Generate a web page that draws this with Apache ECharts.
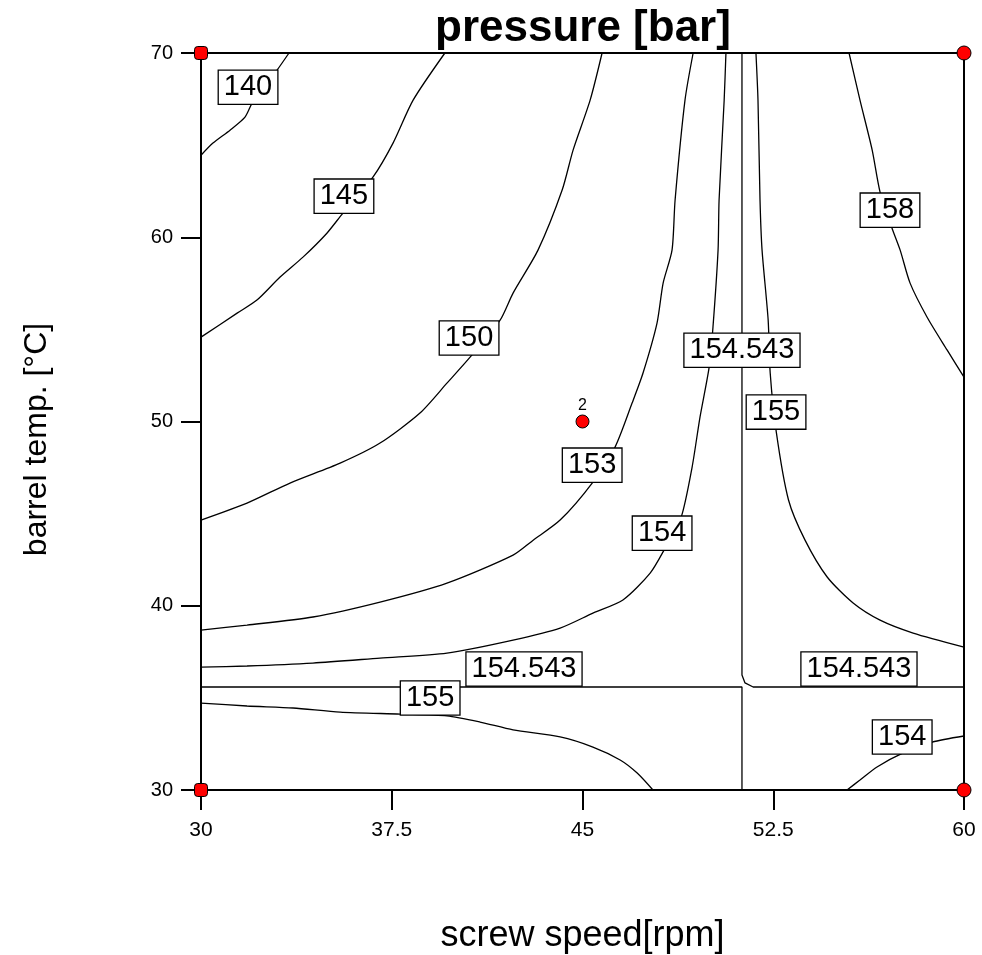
<!DOCTYPE html>
<html>
<head>
<meta charset="utf-8">
<script src="https://cdn.jsdelivr.net/npm/echarts@6/dist/echarts.min.js"></script>
<style>html,body{margin:0;padding:0;background:#fff}#chart{width:982px;height:955px}</style>
</head>
<body>
<div id="chart"></div>
<script>
// Axis ticks
var xTicks = [30, 37.5, 45, 52.5, 60];
var yTicks = [30, 40, 50, 60, 70];

// Contour lines [screw speed, barrel temp]
var c140 = [[33.46,70],[32.99,69.07],[32.48,68.15],[32.01,67.28],[31.73,66.52],[31.14,65.81],[30.47,65.11],[30,64.45]];
var c145 = [[39.59,70],[38.34,67.44],[37.55,65.11],[36.76,63.26],[35.58,61.31],[34.95,60.22],[34.01,58.92],[33.11,57.84],[32.20,56.59],[31.42,55.88],[30,54.58]];
var c150 = [[45.77,70],[45.30,67.44],[44.63,64.73],[44.20,62.56],[43.25,59.30],[42.27,56.97],[41.76,55.50],[40.58,53.49],[39.67,52.08],[38.61,50.46],[37.04,48.83],[35.47,47.74],[33.50,46.66],[31.81,45.57],[30,44.65]];
var c153 = [[49.35,70],[49.03,67.44],[48.64,62.01],[48.52,59.30],[48.17,57.51],[47.93,55.34],[47.38,52.63],[46.95,51.00],[46.28,48.61],[45.38,46.66],[44.12,44.65],[43.06,43.56],[42.27,42.75],[39.67,41.23],[37.04,40.20],[34.40,39.39],[31.81,38.95],[30,38.68]];
var c154 = [[50.64,70],[50.57,67.44],[50.37,62.01],[50.33,59.30],[50.13,55.12],[49.98,52.95],[49.62,50.24],[49.31,47.53],[48.88,44.81],[48.25,43.13],[47.66,41.77],[46.59,40.31],[45.41,39.60],[44.12,38.79],[42.27,38.14],[39.67,37.43],[37.04,37.16],[34.40,36.89],[31.81,36.73],[30,36.67]];
var c154b = [[55.40,30],[55.91,30.54],[56.58,31.25],[57.61,32.01],[58.75,32.60],[60,32.93]];
var c155 = [[51.82,70],[51.90,67.44],[51.98,62.01],[52.06,59.30],[52.30,55.50],[52.38,52.63],[52.62,49.42],[53.10,45.74],[53.75,43.56],[54.62,41.56],[55.64,40.15],[56.70,39.22],[58.00,38.52],[60,37.76]];
var c155b = [[30,34.72],[31.81,34.56],[33.62,34.45],[35.47,34.23],[37.83,34.12],[39.67,34.02],[40.97,33.69],[42.27,33.26],[44.12,32.88],[45.41,32.33],[46.48,31.63],[47.15,30.92],[47.77,30]];
var c158 = [[55.48,70],[55.91,67.44],[56.39,64.73],[56.70,62.45],[57.17,60.49],[57.49,59.30],[57.88,57.51],[58.55,55.66],[59.34,53.87],[60,52.41]];
var saddleA = [[51.27,70],[51.27,36.24],[51.39,35.81],[51.71,35.59],[60,35.59]];
var saddleB = [[30,35.59],[51.27,35.59],[51.27,30]];

// Contour labels
var labelPos = [[31.85,68.14],[35.62,62.23],[40.54,54.53],[45.38,47.63],[48.13,43.94],[51.27,53.87],[42.70,36.57],[55.87,36.57],[52.61,50.51],[39.01,34.99],[57.57,32.88],[57.09,61.47]];
var labelText = ['140','145','150','153','154','154.543','154.543','154.543','155','155','154','158'];

// Design points
var cornerLeft = [[30,30],[30,70]];
var cornerRight = [[60,30],[60,70]];
var centerPt = [[45,50]];
var centerRuns = ['2'];

var curves = [c140, c145, c150, c153, c154, c154b, c155, c155b, c158];
var straight = [saddleA, saddleB];

var series = [];
curves.forEach(function (d) {
  series.push({
    type: 'line', data: d, showSymbol: false, symbol: 'none', smooth: 0.25,
    lineStyle: { color: '#000', width: 1.3, opacity: 1 }, silent: true, z: 2, clip: true
  });
});
straight.forEach(function (d) {
  series.push({
    type: 'line', data: d, showSymbol: false, symbol: 'none', smooth: false,
    lineStyle: { color: '#000', width: 1.3, opacity: 1 }, silent: true, z: 2, clip: true
  });
});

series.push({
  type: 'scatter', z: 5, symbolSize: 1, itemStyle: { color: 'rgba(0,0,0,0)', opacity: 1 },
  data: labelPos.map(function (p, i) { return { value: p, name: labelText[i] }; }),
  label: {
    show: true, position: 'inside', formatter: '{b}',
    fontFamily: 'Liberation Sans', fontSize: 29, color: '#000',
    backgroundColor: '#fff', borderColor: '#000', borderWidth: 1.3,
    padding: [2, 5, 0, 5], lineHeight: 31
  }
});

series.push({
  type: 'scatter', z: 6, symbol: 'roundRect', symbolSize: 13,
  itemStyle: { color: '#f00', borderColor: '#000', borderWidth: 1, opacity: 1 },
  data: cornerLeft
});
series.push({
  type: 'scatter', z: 6, symbol: 'circle', symbolSize: 14,
  itemStyle: { color: '#f00', borderColor: '#000', borderWidth: 1, opacity: 1 },
  data: cornerRight
});
series.push({
  type: 'scatter', z: 6, symbol: 'circle', symbolSize: 13,
  itemStyle: { color: '#f00', borderColor: '#000', borderWidth: 1, opacity: 1 },
  data: centerPt.map(function (p, i) { return { value: p, name: centerRuns[i] }; }),
  label: { show: true, position: 'top', distance: 1, formatter: '{b}', fontFamily: 'Liberation Sans', fontSize: 16, color: '#000' }
});

var chart = echarts.init(document.getElementById('chart'), null, { renderer: 'canvas' });
chart.setOption({
  animation: false,
  backgroundColor: '#fff',
  title: {
    text: 'pressure [bar]', left: 430, top: 2,
    textStyle: { fontFamily: 'Liberation Sans', fontWeight: 'bold', fontSize: 44, color: '#000' }
  },
  grid: {
    left: 201, right: 18, top: 53, bottom: 165, outerBoundsMode: 'none', containLabel: false,
    show: true, borderColor: '#000', borderWidth: 2, backgroundColor: 'transparent'
  },
  xAxis: {
    type: 'value', min: 30, max: 60, interval: 7.5,
    name: 'screw speed[rpm]', nameLocation: 'middle', nameGap: 128,
    nameTextStyle: { fontFamily: 'Liberation Sans', fontSize: 36, color: '#000' },
    axisLine: { show: true, lineStyle: { color: '#000', width: 2 } },
    axisTick: { show: true, length: 20, inside: false, lineStyle: { color: '#000', width: 2 } },
    axisLabel: { margin: 30, fontFamily: 'Liberation Sans', fontSize: 21, color: '#000' },
    splitLine: { show: false }
  },
  yAxis: {
    type: 'value', min: 30, max: 70, interval: 10,
    name: 'barrel temp. [°C]', nameLocation: 'middle', nameGap: 148,
    nameTextStyle: { fontFamily: 'Liberation Sans', fontSize: 32, color: '#000', padding: [0, 36, 0, 0] },
    axisLine: { show: true, lineStyle: { color: '#000', width: 2 } },
    axisTick: { show: true, length: 20, inside: false, lineStyle: { color: '#000', width: 2 } },
    axisLabel: { margin: 28, fontFamily: 'Liberation Sans', fontSize: 20, color: '#000', padding: [0, 0, 12, 0] },
    splitLine: { show: false }
  },
  series: series
});
</script>
</body>
</html>
